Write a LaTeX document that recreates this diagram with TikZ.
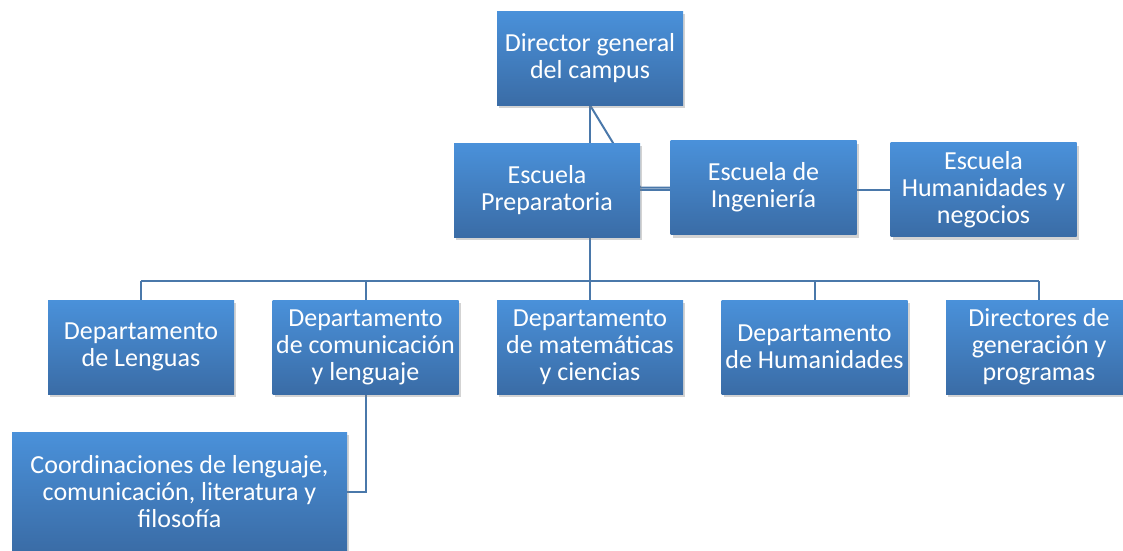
\documentclass[tikz,border=0pt]{standalone}
\usepackage{fontspec}
\setmainfont{Carlito}
\usetikzlibrary{shadows,backgrounds}
\definecolor{boxtop}{HTML}{4A91DA}
\definecolor{boxbot}{HTML}{3A6CA6}
\definecolor{linecol}{HTML}{4A78AA}
\tikzset{
  unit/.style={rectangle, minimum width=186pt, minimum height=94pt, inner sep=0pt,
    align=center, text=white, top color=boxtop, bottom color=boxbot,
    drop shadow={opacity=0.35, shadow xshift=2pt, shadow yshift=-3pt},
    font=\fontsize{26}{27}\selectfont},
  conn/.style={draw=linecol, line width=2pt}
}
\begin{document}
\begin{tikzpicture}[x=1pt, y=-1pt]
            \useasboundingbox (0,0) rectangle (1123,550);

            \node[unit] (dir) at (590,58) {Director general\\del campus};

            \node[unit] (prep) at (547,190) {Escuela\\Preparatoria};

            \node[unit] (ing) at (763.5,187.5) {Escuela de\\Ingeniería};

            \node[unit] (hum) at (983.5,189.5) {Escuela\\Humanidades y\\negocios};

            \node[unit] (leng) at (141,347) {Departamento\\de Lenguas};

            \node[unit] (comun) at (365.5,347) {Departamento\\de comunicación\\y lenguaje};

            \node[unit] (mate) at (590,347) {Departamento\\de matemáticas\\y ciencias};

            \node[unit] (dhum) at (814.5,347) {Departamento\\de Humanidades};

            \node[unit] (gen) at (1039,347) {Directores de\\generación y\\programas};

            \node[unit, minimum width=335pt, minimum height=120pt] (coord) at (179.5,492) {Coordinaciones de lenguaje,\\comunicación, literatura y\\filosofía};

            \coordinate (bus) at (590,281);

            \begin{scope}[on background layer]
            \draw[conn] (dir.south) -- (dir.south |- prep.north);

            \draw[conn] (dir.south) -- (prep.east |- ing.west) -- (ing.west);

            \draw[conn] (prep.east |- hum.west) -- (hum.west -| ing.west);

            \draw[conn] (ing.east |- hum.west) -- (hum.west);

            \draw[conn] (bus |- prep.south) -- (bus);

            \draw[conn] (leng.north |- bus) -- (gen.north |- bus);

            \foreach \d in {leng, comun, mate, dhum, gen}
                \draw[conn] (\d.north |- bus) -- (\d.north);

            \draw[conn] (comun.south) -- (comun.south |- coord.east) -- (coord.east);
            \end{scope}
        \end{tikzpicture}
\end{document}
